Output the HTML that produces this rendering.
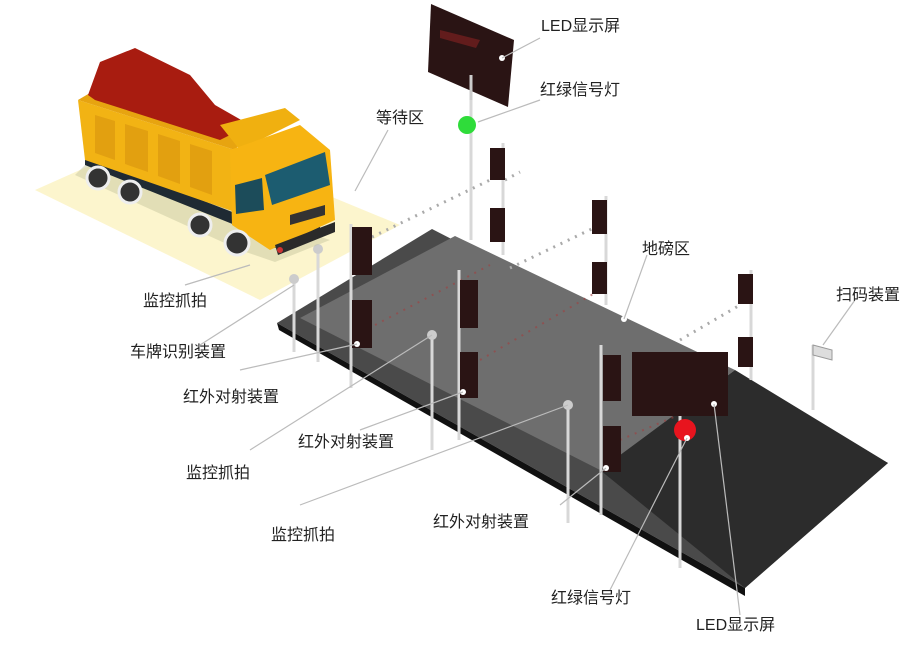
<!DOCTYPE html>
<html><head><meta charset="utf-8"><style>
html,body{margin:0;padding:0;background:#fff;}
svg{display:block}
text{font-family:"Liberation Sans","Noto Sans CJK SC",sans-serif;font-size:16px;fill:#222}
</style></head><body>
<svg width="923" height="668" viewBox="0 0 923 668" xmlns="http://www.w3.org/2000/svg">
<polygon points="35,190 170,130 400,225 260,300" fill="#fbf3c0" opacity="0.8"/>
<polygon points="277,323 432,229 888,463 745,588" fill="#4a4a4a"/>
<polygon points="300,318 455,236 735,370 600,470" fill="#6e6e6e"/>
<polygon points="600,470 735,370 888,463 745,588" fill="#2c2c2c"/>
<polygon points="277,323 745,588 745,596 279,330" fill="#111"/>
<g stroke="#aaa" stroke-width="3" stroke-dasharray="2,6" fill="none">
<line x1="372" y1="237" x2="490" y2="180"/>
<line x1="505" y1="180" x2="520" y2="172"/>
<line x1="510" y1="268" x2="600" y2="225"/>
<line x1="680" y1="340" x2="740" y2="305"/>
</g>
<g stroke="#a04040" stroke-width="2" stroke-dasharray="2,6" fill="none" opacity="0.6">
<line x1="375" y1="325" x2="490" y2="265"/>
<line x1="480" y1="360" x2="600" y2="290"/>
<line x1="620" y1="440" x2="690" y2="410"/>
</g>
<g stroke="#d8d8d8" stroke-width="3">
<line x1="471" y1="100" x2="471" y2="240"/>
<line x1="503" y1="143" x2="503" y2="255"/>
<line x1="606" y1="196" x2="606" y2="305"/>
<line x1="751" y1="270" x2="751" y2="380"/>
<line x1="351" y1="224" x2="351" y2="388"/>
<line x1="318" y1="250" x2="318" y2="362"/>
<line x1="294" y1="280" x2="294" y2="352"/>
<line x1="459" y1="270" x2="459" y2="440"/>
<line x1="432" y1="335" x2="432" y2="450"/>
<line x1="568" y1="405" x2="568" y2="523"/>
<line x1="601" y1="345" x2="601" y2="515"/>
<line x1="680" y1="363" x2="680" y2="568"/>
<line x1="813" y1="345" x2="813" y2="410"/>
</g>
<g fill="#2a1414">
<rect x="490" y="148" width="15" height="32"/>
<rect x="490" y="208" width="15" height="34"/>
<rect x="592" y="200" width="15" height="34"/>
<rect x="592" y="262" width="15" height="32"/>
<rect x="738" y="274" width="15" height="30"/>
<rect x="738" y="337" width="15" height="30"/>
<rect x="352" y="227" width="20" height="48"/>
<rect x="352" y="300" width="20" height="48"/>
<rect x="460" y="280" width="18" height="48"/>
<rect x="460" y="352" width="18" height="46"/>
<rect x="603" y="355" width="18" height="46"/>
<rect x="603" y="426" width="18" height="46"/>
<rect x="632" y="352" width="96" height="64"/>
</g>
<polygon points="431,4 514,40 508,107 428,72" fill="#2a1414"/>
<polygon points="440,30 480,40 476,48 440,38" fill="#7a2020" opacity="0.7"/>
<line x1="471" y1="100" x2="471" y2="75" stroke="#ccc" stroke-width="3"/>
<circle cx="467" cy="125" r="9" fill="#2fdc3a"/>
<circle cx="685" cy="430" r="11" fill="#e8141e"/>
<circle cx="432" cy="335" r="5" fill="#ccc"/>
<circle cx="568" cy="405" r="5" fill="#ccc"/>
<circle cx="294" cy="279" r="5" fill="#ccc"/>
<circle cx="318" cy="249" r="5" fill="#ccc"/>
<polygon points="813,345 832,350 832,360 813,355" fill="#ddd" stroke="#999"/>
<g fill="#fff"><circle cx="624" cy="319" r="3"/><circle cx="357" cy="344" r="3"/><circle cx="463" cy="392" r="3"/><circle cx="606" cy="468" r="3"/><circle cx="714" cy="404" r="3"/><circle cx="687" cy="438" r="3"/><circle cx="502" cy="58" r="3"/><circle cx="355" cy="191" r="3"/></g>
<!-- truck -->
<polygon points="75,175 240,250 275,262 330,240 90,160" fill="#c8c8a0" opacity="0.5"/>
<polygon points="85,165 235,225 275,248 320,230 320,222 240,215 85,155" fill="#1f2a33"/>
<polygon points="78,100 235,150 235,212 85,160" fill="#f2b314"/>
<g fill="#e2a010"><polygon points="95,115 115,121 115,160 95,153"/><polygon points="125,124 148,131 148,172 125,164"/><polygon points="158,134 180,141 180,184 158,176"/><polygon points="190,144 212,151 212,195 190,187"/></g>
<polygon points="78,100 95,90 250,130 235,150" fill="#e7a410"/>
<polygon points="88,95 100,62 135,48 190,75 215,105 250,125 220,140 95,100" fill="#a81c10"/>
<polygon points="220,125 285,108 300,120 240,150" fill="#f0b010"/>
<polygon points="230,150 300,125 330,150 335,220 270,250 232,225" fill="#f7b412"/>
<polygon points="265,175 325,152 330,185 272,205" fill="#1c5c70"/>
<polygon points="235,185 262,178 264,210 236,214" fill="#1c4c5a"/>
<polygon points="290,215 325,205 325,215 290,225" fill="#333"/>
<polygon points="275,245 335,222 335,232 278,255" fill="#2a2a2a"/>
<circle cx="280" cy="250" r="3" fill="#c33"/>
<g fill="#333" stroke="#eee" stroke-width="3"><circle cx="98" cy="178" r="11"/><circle cx="130" cy="192" r="11"/><circle cx="200" cy="225" r="11"/><circle cx="237" cy="243" r="12"/></g>
<g stroke="#bbb" stroke-width="1.2" fill="none">
<line x1="388" y1="130" x2="355" y2="191"/>
<line x1="540" y1="38" x2="502" y2="58"/>
<line x1="540" y1="100" x2="478" y2="122"/>
<line x1="647" y1="255" x2="624" y2="319"/>
<line x1="855" y1="300" x2="823" y2="345"/>
<line x1="185" y1="285" x2="250" y2="265"/>
<line x1="200" y1="345" x2="294" y2="285"/>
<line x1="240" y1="370" x2="357" y2="344"/>
<line x1="250" y1="450" x2="432" y2="335"/>
<line x1="300" y1="505" x2="568" y2="405"/>
<line x1="360" y1="430" x2="463" y2="392"/>
<line x1="560" y1="505" x2="606" y2="468"/>
<line x1="610" y1="590" x2="687" y2="438"/>
<line x1="740" y1="615" x2="714" y2="404"/>
</g>
<text x="376" y="123">等待区</text>
<text x="541" y="31">LED显示屏</text>
<text x="540" y="95">红绿信号灯</text>
<text x="642" y="254">地磅区</text>
<text x="836" y="300">扫码装置</text>
<text x="143" y="306">监控抓拍</text>
<text x="130" y="357">车牌识别装置</text>
<text x="183" y="402">红外对射装置</text>
<text x="298" y="447">红外对射装置</text>
<text x="186" y="478">监控抓拍</text>
<text x="271" y="540">监控抓拍</text>
<text x="433" y="527">红外对射装置</text>
<text x="551" y="603">红绿信号灯</text>
<text x="696" y="630">LED显示屏</text>
</svg>
</body></html>
